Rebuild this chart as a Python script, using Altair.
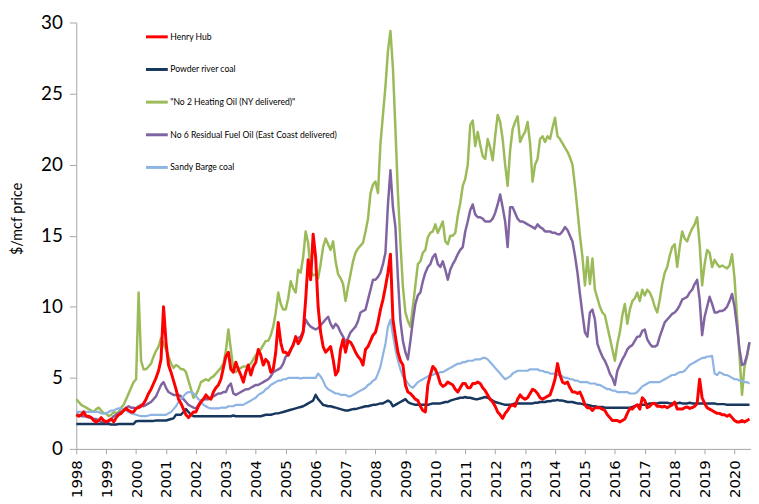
import altair as alt
import pandas as pd

START_YEAR = 1998  # monthly values, first value = Jan 1998

henry_hub = [
    2.4, 2.3, 2.4, 2.6, 2.3, 2.3, 2.2, 2.0, 1.9, 2.0, 2.2, 2.0,
    1.9, 2.0, 2.1, 1.9, 2.2, 2.4, 2.5, 2.7, 2.85, 2.7, 2.6, 2.6,
    2.85, 2.9, 3.0, 3.2, 3.5, 3.9, 4.2, 4.6, 5.0, 5.5, 6.3, 10.0,
    7.5, 5.9, 5.4, 4.8, 4.2, 3.5, 3.2, 2.8, 2.4, 2.2, 2.4, 2.6,
    2.6, 3.0, 3.3, 3.5, 3.8, 3.6, 3.5, 4.0, 4.3, 4.5, 4.9, 5.7,
    6.5, 6.8, 5.6, 5.4, 6.1, 5.6, 5.2, 4.7, 5.4, 5.9, 5.2, 5.8,
    6.1, 7.0, 6.6, 5.9, 6.3, 6.1, 5.4, 5.6, 6.8, 8.9, 7.5, 6.8,
    6.8, 6.6, 7.0, 7.3, 7.9, 7.4, 7.7, 8.2, 10.5, 13.3, 11.9, 15.1,
    13.5, 10.0, 8.2, 7.2, 6.8, 7.0, 7.2, 6.3, 5.2, 5.5, 7.0, 7.7,
    6.8, 7.6, 7.5, 7.2, 6.8, 6.5, 6.3, 5.9, 7.0, 7.2, 7.6, 8.0,
    8.2, 8.9, 9.8, 10.5, 11.4, 12.4, 13.7, 9.1, 7.9, 6.8, 6.2, 5.9,
    4.5, 4.0, 3.9, 3.7, 3.5, 3.4, 3.0, 2.7, 2.6, 4.5, 5.2, 5.8,
    5.6, 5.2, 4.6, 4.4, 4.5, 4.7, 4.6, 4.5, 4.2, 4.0, 4.3, 4.6,
    4.6, 4.3, 4.3, 4.6, 4.6, 4.7, 4.6, 4.3, 4.1, 3.8, 3.5, 3.3,
    3.0, 2.6, 2.4, 2.15, 2.5, 2.7, 3.0, 3.1, 3.0, 3.5, 3.8, 3.6,
    3.5, 3.6, 3.9, 4.2, 4.1, 3.9, 3.6, 3.5, 3.6, 3.7, 3.8, 4.3,
    4.9, 6.0, 5.2, 4.7, 4.6, 4.7, 4.3, 4.0, 4.0, 3.9, 4.0, 3.6,
    3.1, 2.9, 2.9, 2.7, 2.9, 2.9, 2.9, 2.8, 2.7, 2.4, 2.2, 2.0,
    2.0, 2.0, 1.9, 2.0, 2.1, 2.5, 2.85, 2.8, 3.0, 3.1, 2.8, 3.6,
    3.4, 2.9, 3.0, 3.2, 3.2, 3.0, 3.0, 2.95, 3.0, 2.9, 3.0, 3.1,
    3.3, 2.8, 2.8, 2.8, 2.9, 2.95, 2.85, 2.9, 3.0, 3.2, 4.9, 3.6,
    3.2, 2.9, 2.8, 2.7, 2.6, 2.5, 2.5, 2.4, 2.4, 2.3, 2.4, 2.2,
    2.0, 1.9, 1.9, 2.0, 1.9, 2.0, 2.1,
]

powder_river = [
    1.75, 1.75, 1.75, 1.75, 1.75, 1.75, 1.75, 1.75, 1.75, 1.75, 1.75, 1.75,
    1.75, 1.75, 1.72, 1.72, 1.72, 1.75, 1.75, 1.75, 1.75, 1.75, 1.75, 1.75,
    1.95, 1.97, 1.97, 1.97, 1.97, 1.97, 1.97, 1.97, 2.0, 2.0, 2.0, 2.0,
    2.0, 2.05, 2.1, 2.15, 2.4, 2.4, 2.4, 2.6, 2.8, 2.6, 2.4, 2.3,
    2.3, 2.3, 2.3, 2.3, 2.3, 2.3, 2.3, 2.3, 2.3, 2.3, 2.3, 2.3,
    2.3, 2.3, 2.3, 2.35, 2.3, 2.3, 2.3, 2.3, 2.3, 2.3, 2.3, 2.3,
    2.3, 2.3, 2.3, 2.35, 2.4, 2.4, 2.4, 2.45, 2.5, 2.5, 2.55, 2.6,
    2.65, 2.7, 2.75, 2.8, 2.85, 2.9, 2.95, 3.0, 3.1, 3.2, 3.3, 3.4,
    3.8, 3.5, 3.3, 3.1, 3.05, 3.0, 3.0, 2.95, 2.9, 2.85, 2.8, 2.75,
    2.7, 2.7, 2.75, 2.8, 2.8, 2.85, 2.9, 2.95, 3.0, 3.0, 3.05, 3.1,
    3.1, 3.15, 3.2, 3.2, 3.3, 3.4, 3.3, 3.0, 3.1, 3.2, 3.3, 3.4,
    3.5, 3.3, 3.2, 3.15, 3.1, 3.1, 3.1, 3.1, 3.1, 3.1, 3.15, 3.2,
    3.2, 3.2, 3.2, 3.25, 3.3, 3.3, 3.4, 3.45, 3.5, 3.55, 3.6, 3.6,
    3.65, 3.6, 3.6, 3.55, 3.5, 3.5, 3.55, 3.6, 3.65, 3.6, 3.5, 3.4,
    3.3, 3.25, 3.2, 3.15, 3.1, 3.1, 3.1, 3.15, 3.2, 3.2, 3.2, 3.2,
    3.2, 3.2, 3.2, 3.2, 3.25, 3.25, 3.3, 3.3, 3.3, 3.35, 3.35, 3.4,
    3.4, 3.45, 3.4, 3.4, 3.35, 3.3, 3.3, 3.3, 3.25, 3.2, 3.2, 3.15,
    3.1, 3.1, 3.05, 3.0, 3.0, 2.95, 2.95, 2.95, 2.9, 2.9, 2.9, 2.9,
    2.9, 2.9, 2.9, 2.9, 2.9, 2.9, 2.9, 2.95, 3.0, 3.05, 3.1, 3.1,
    3.1, 3.15, 3.2, 3.2, 3.2, 3.2, 3.25, 3.25, 3.25, 3.25, 3.2, 3.2,
    3.2, 3.2, 3.25, 3.2, 3.2, 3.2, 3.25, 3.2, 3.2, 3.2, 3.2, 3.2,
    3.2, 3.2, 3.2, 3.2, 3.2, 3.15, 3.15, 3.15, 3.15, 3.1, 3.1, 3.1,
    3.1, 3.1, 3.1, 3.1, 3.1, 3.1, 3.1,
]

heating_oil = [
    3.5, 3.3, 3.1, 3.0, 2.9, 2.8, 2.7, 2.6, 2.8, 2.9, 2.7, 2.5,
    2.5, 2.3, 2.4, 2.6, 2.5, 2.6, 2.9, 3.1, 3.5, 3.9, 4.3, 4.7,
    4.9, 11.0, 6.2, 5.6, 5.6, 5.8, 6.0, 6.5, 6.9, 7.2, 7.8, 7.4,
    7.0, 6.5, 6.0, 5.7, 5.9, 5.8, 5.6, 5.6, 5.4, 4.8, 4.2, 3.6,
    3.8, 4.2, 4.7, 4.8, 4.9, 4.8, 5.0, 5.1, 5.3, 5.5, 5.7, 6.0,
    6.9, 8.4, 7.0, 5.6, 5.4, 5.6, 5.7, 5.8, 5.8, 5.9, 6.0, 6.3,
    6.6, 6.8, 7.0, 7.3, 7.6, 7.6, 8.0, 8.6, 9.6, 11.0, 10.2, 9.8,
    9.8, 10.6, 11.8, 11.3, 11.0, 12.6, 12.4, 13.5, 15.3, 14.5, 12.5, 12.2,
    12.3, 12.0, 13.0, 14.2, 14.8, 14.4, 14.0, 14.6, 13.2, 12.3, 12.0, 11.6,
    10.4, 11.4, 12.3, 13.2, 13.8, 14.1, 14.3, 14.5, 15.3, 16.2, 18.0, 18.6,
    18.8, 18.0, 21.5, 23.5, 25.5, 28.0, 29.4, 26.8, 22.5, 18.0, 14.5, 11.4,
    9.6, 9.0, 8.6, 10.0, 11.5, 13.0, 13.2, 13.8, 14.0, 14.9, 15.2, 15.3,
    15.8, 15.2, 15.6, 16.0, 14.6, 14.4, 15.0, 15.0, 15.2, 16.4, 17.3, 18.5,
    19.0, 20.0, 22.8, 23.1, 21.3, 22.3, 21.4, 20.6, 20.4, 21.8, 21.2, 20.3,
    22.0, 23.5, 23.0, 21.8, 20.0, 18.5, 21.0, 22.5, 23.0, 23.4, 21.6, 22.0,
    22.3, 23.0, 21.5, 18.8, 20.0, 20.4, 21.8, 22.0, 21.6, 22.0, 21.8, 22.6,
    23.3, 22.0, 21.8, 21.5, 21.2, 20.9, 20.5, 20.0, 18.5, 16.8, 15.0, 13.5,
    11.5, 13.5, 11.6, 13.4, 11.2, 10.6, 10.0, 9.6, 9.4, 8.6, 7.8, 7.0,
    6.2, 7.4, 8.2, 9.4, 10.2, 8.8, 9.8, 10.4, 10.6, 11.0, 10.4, 11.2,
    10.8, 11.2, 11.0, 10.6, 10.0, 9.6, 10.5, 11.6, 12.4, 12.8, 13.6, 14.2,
    14.4, 12.8, 14.2, 15.3, 14.8, 14.6, 15.1, 15.5, 15.8, 16.3, 14.4, 11.5,
    13.0, 14.0, 13.8, 12.8, 13.3, 13.0, 12.8, 12.9, 12.8, 12.7, 12.9, 13.7,
    12.0, 9.3, 6.5, 3.8, 5.8, 6.5, 7.5,
]

residual_oil = [
    2.4, 2.4, 2.3, 2.3, 2.3, 2.2, 2.2, 2.1, 2.1, 2.0, 1.9, 1.9,
    1.9, 1.9, 2.1, 2.3, 2.4, 2.5, 2.6, 2.7, 2.9, 3.0, 2.9, 2.9,
    2.85, 3.0, 3.1, 3.0, 3.1, 3.2, 3.3, 3.5, 3.7, 4.1, 4.5, 4.7,
    4.3, 4.0, 3.9, 3.8, 3.8, 3.8, 3.7, 3.5, 3.3, 3.1, 3.0, 2.9,
    2.85, 3.1, 3.4, 3.5, 3.5, 3.5, 3.6, 3.7, 3.8, 3.9, 3.9, 4.0,
    4.0, 4.4, 4.6, 3.9, 3.8, 3.9, 4.0, 4.1, 4.2, 4.2, 4.3, 4.4,
    4.5, 4.5, 4.6, 4.7, 4.8, 4.9, 5.1, 5.4, 5.5, 5.6, 5.7, 6.0,
    6.5, 6.6, 6.9, 7.4, 7.7, 7.8, 7.9, 8.3, 9.1, 8.8, 8.6, 8.5,
    8.4, 8.5, 8.7, 8.9, 9.1, 9.3, 8.8, 8.5, 8.8, 8.6, 8.2, 7.9,
    7.5, 7.8, 8.2, 8.4, 8.6, 9.0, 9.6, 9.7, 9.8, 10.5, 11.2, 11.9,
    11.9, 12.1, 12.4, 13.0, 13.8, 17.2, 19.6, 17.0, 15.6, 12.0, 9.0, 7.6,
    6.8, 6.3, 7.6, 9.0, 10.2, 10.8, 11.0, 11.8, 12.4, 12.8, 13.0, 13.5,
    13.7, 13.0, 12.8, 13.2, 12.6, 11.9, 12.6, 13.0, 13.3, 13.7, 14.0, 14.2,
    15.3, 16.0, 16.8, 17.2, 16.5, 16.3, 16.3, 16.2, 16.0, 16.0, 16.0, 16.2,
    16.6, 17.2, 17.9, 17.0, 16.0, 14.2, 17.0, 17.0, 16.6, 16.2, 16.0, 16.0,
    15.9, 15.8, 15.7, 15.6, 15.5, 15.8, 15.6, 15.5, 15.3, 15.3, 15.3, 15.2,
    15.2, 15.1, 15.1, 15.3, 15.6, 15.4, 15.0, 14.6, 13.6, 12.4, 10.9, 9.5,
    8.2, 7.9, 9.6, 9.8, 9.1, 7.4, 6.9, 6.5, 6.2, 5.8, 5.3, 5.0,
    4.5, 5.5, 5.9, 6.3, 6.6, 7.0, 7.2, 7.3, 7.6, 7.9, 7.9, 8.3,
    8.4, 7.7, 7.4, 7.2, 7.2, 7.3, 7.9, 8.4, 8.9, 9.1, 9.3, 9.5,
    9.6, 9.8, 10.1, 10.5, 10.6, 10.7, 11.0, 11.2, 11.6, 11.9, 10.5, 8.0,
    9.3, 10.0, 10.7, 10.2, 9.6, 9.6, 9.7, 9.7, 9.8, 10.0, 10.4, 10.9,
    10.0, 8.6, 7.0, 5.9, 6.0, 6.6, 7.5,
]

sandy_barge = [
    2.6, 2.6, 2.6, 2.6, 2.6, 2.6, 2.6, 2.6, 2.6, 2.6, 2.5, 2.5,
    2.5, 2.6, 2.7, 2.7, 2.8, 2.85, 2.85, 2.8, 2.7, 2.6, 2.5, 2.45,
    2.4, 2.35, 2.3, 2.3, 2.3, 2.35, 2.4, 2.4, 2.4, 2.4, 2.4, 2.4,
    2.4, 2.5, 2.6, 2.8, 3.0, 3.3, 3.5, 3.7, 3.9, 4.0, 4.0, 3.9,
    3.7, 3.5, 3.3, 3.1, 3.0, 2.9, 2.85, 2.85, 2.85, 2.85, 2.9, 2.9,
    2.9, 3.0, 3.0, 3.0, 3.1, 3.1, 3.1, 3.1, 3.2, 3.3, 3.4, 3.5,
    3.6, 3.8, 3.9, 4.0, 4.2, 4.3, 4.5, 4.6, 4.7, 4.8, 4.8, 4.9,
    4.9, 5.0, 5.0, 5.0, 5.0, 5.0, 4.95, 5.0, 5.0, 5.0, 5.0, 5.0,
    5.0, 5.3, 5.1, 4.8, 4.4, 4.2, 4.1, 4.0, 3.9, 3.9, 3.8, 3.8,
    3.8, 3.7, 3.7, 3.8, 3.9, 4.0, 4.1, 4.2, 4.3, 4.5, 4.6, 4.8,
    4.9, 5.3, 5.8, 6.6, 7.4, 8.6, 9.1, 8.0, 7.0, 6.2, 5.6, 5.1,
    4.9, 4.6, 4.4, 4.3, 4.5, 4.7, 4.8, 4.9, 5.0, 5.1, 5.2, 5.2,
    5.3, 5.3, 5.4, 5.4, 5.5, 5.6, 5.7, 5.8, 5.9, 6.0, 6.0, 6.1,
    6.1, 6.2, 6.2, 6.2, 6.3, 6.3, 6.3, 6.4, 6.4, 6.3, 6.1, 5.9,
    5.7, 5.5, 5.3, 5.1, 4.9, 5.0, 5.1, 5.3, 5.4, 5.5, 5.5, 5.5,
    5.5, 5.5, 5.6, 5.6, 5.6, 5.6, 5.5, 5.5, 5.4, 5.4, 5.3, 5.3,
    5.3, 5.2, 5.2, 5.1, 5.0, 5.0, 4.9, 4.9, 4.8, 4.8, 4.7, 4.7,
    4.7, 4.7, 4.6, 4.6, 4.6, 4.5, 4.5, 4.4, 4.3, 4.2, 4.2, 4.1,
    4.1, 4.0, 4.0, 4.0, 4.0, 4.0, 3.9, 3.9, 3.9, 4.0, 4.2, 4.4,
    4.5, 4.6, 4.7, 4.7, 4.7, 4.7, 4.7, 4.8, 4.9, 5.0, 5.1, 5.2,
    5.2, 5.3, 5.4, 5.4, 5.5, 5.7, 5.9, 6.0, 6.1, 6.2, 6.3, 6.4,
    6.4, 6.5, 6.5, 6.55, 5.3, 5.2, 5.4, 5.3, 5.2, 5.2, 5.1, 5.0,
    4.9, 4.9, 4.8, 4.8, 4.7, 4.7, 4.6,
]

SERIES = [
    "Henry Hub",
    "Powder river coal",
    "\"No 2 Heating Oil (NY delivered)\"",
    "No 6 Residual Fuel Oil (East Coast delivered)",
    "Sandy Barge coal",
]
VALUES = [henry_hub, powder_river, heating_oil, residual_oil, sandy_barge]
COLORS = ["#FF0000", "#17375E", "#9BBB59", "#8064A2", "#8DB4E2"]
WIDTHS = [3.0, 2.5, 2.5, 2.5, 2.2]
YEAR_TICKS = list(range(1998, 2021))
Y_TICKS = [0, 5, 10, 15, 20, 25, 30]

rows = []
for name, vals in zip(SERIES, VALUES):
    for i, v in enumerate(vals):
        rows.append({"t": START_YEAR + i / 12.0, "value": v, "series": name})
df = pd.DataFrame(rows)

axis_gray = "#A6A6A6"

x_enc = alt.X(
    "t:Q",
    scale=alt.Scale(domain=[1998, 2020.55], nice=False, zero=False),
    axis=alt.Axis(
        values=YEAR_TICKS, format="d", labelAngle=270, title=None, grid=False,
        labelFont="DejaVu Sans", labelFontSize=15, labelColor="#000000",
        labelPadding=6, tickSize=5, tickColor=axis_gray, domainColor=axis_gray,
        labelOverlap=False, labelFlush=False,
    ),
)
y_enc = alt.Y(
    "value:Q",
    scale=alt.Scale(domain=[0, 30], nice=False),
    axis=alt.Axis(
        values=Y_TICKS, title="$/mcf price", grid=False,
        titleFont="Lato", titleFontSize=14.5, titleFontWeight="normal",
        titleColor="#000000", titlePadding=16, titleY=198,
        labelFont="Lato", labelFontSize=19, labelColor="#000000",
        labelPadding=7, tickSize=7, tickColor=axis_gray, domainColor=axis_gray,
    ),
)
color_enc = alt.Color(
    "series:N",
    scale=alt.Scale(domain=SERIES, range=COLORS),
    legend=alt.Legend(
        title=None, orient="none", legendX=69, legendY=2, padding=0,
        symbolType="stroke", symbolSize=484, symbolStrokeWidth=3,
        rowPadding=14, labelFont="Lato", labelFontSize=8.7,
        labelColor="#000000", labelOffset=1, labelLimit=400,
    ),
)

base = alt.Chart(df).encode(x=x_enc, y=y_enc, color=color_enc)

draw_order = [2, 3, 4, 1, 0]
layers = [
    base.transform_filter(alt.FieldEqualPredicate(field="series", equal=SERIES[k]))
    .mark_line(strokeWidth=WIDTHS[k], strokeJoin="round")
    for k in draw_order
]

chart = (
    alt.layer(*layers)
    .properties(
        width=682, height=431, autosize="none",
        padding={"left": 69, "top": 12, "right": 0, "bottom": 49},
        background="white",
    )
    .configure_view(stroke=None)
)

chart.save("out.html", embed_options={"renderer": "svg", "actions": False})
